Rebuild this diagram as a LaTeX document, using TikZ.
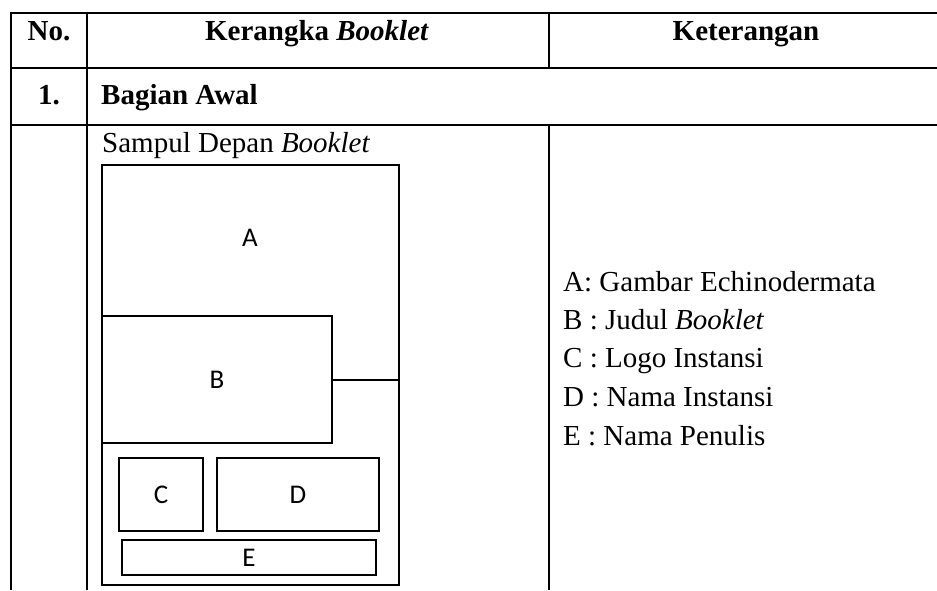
\documentclass[tikz,border=0pt]{standalone}
\usepackage{fontspec}
\setmainfont{Liberation Serif}
\newfontfamily\boxfont{Carlito}
\begin{document}
\begin{tikzpicture}[x=1pt,y=-1pt,
  tline/.style={line width=2.2pt},
  fbox/.style={draw,line width=2pt,rectangle,inner sep=0pt,outer sep=0pt,font=\boxfont\fontsize{27}{31}\selectfont},
  txt/.style={inner sep=0pt,anchor=base west,font=\fontsize{29}{34}\selectfont},
  hd/.style={inner sep=0pt,anchor=base,font=\bfseries\fontsize{29}{34}\selectfont}]
\useasboundingbox (0,0) rectangle (937,590);
% table lines
\draw[tline] (11,13) -- (937,13);
\draw[tline] (11,68) -- (937,68);
\draw[tline] (11,125) -- (937,125);
\draw[tline] (11,11.9) -- (11,590);
\draw[tline] (87,11.9) -- (87,590);
\draw[tline] (549,11.9) -- (549,68);
\draw[tline] (549,125) -- (549,590);
% header
\node[hd] (hno) at (49,40) {No.};
\node[hd] (hker) at (317,40) {Kerangka \textit{Booklet}};
\node[hd] (hket) at (746,40) {Keterangan};
\node[hd] (n1) at (49,104) {1.};
\node[txt,font=\bfseries\fontsize{29}{34}\selectfont] (bag) at (101,104) {Bagian Awal};
\node[txt] (samp) at (102,152) {Sampul Depan \textit{Booklet}};
% figure
\node[fbox,minimum width=297pt,minimum height=420pt] (outer) at (250.5,375) {};
\node[font=\boxfont\fontsize{27}{31}\selectfont,inner sep=0pt] (la) at (250,238) {A};
\node[fbox,minimum width=230pt,minimum height=127pt] (bb) at (217,379.5) {\raisebox{-4pt}{B}};
\draw[line width=2pt] (bb.east) -- (bb.east -| outer.east);
\node[fbox,minimum width=84pt,minimum height=73pt] (cc) at (161,494.5) {C};
\node[fbox,minimum width=162pt,minimum height=73pt] (dd) at (298,494.5) {D};
\node[fbox,minimum width=254pt,minimum height=35pt] (ee) at (249,557.5) {\raisebox{-1pt}{E}};
% keterangan
\node[txt] (ka) at (563,291) {A: Gambar Echinodermata};
\node[txt] (kb) at (563,329) {B : Judul \textit{Booklet}};
\node[txt] (kc) at (563,367) {C : Logo Instansi};
\node[txt] (kd) at (563,406) {D : Nama Instansi};
\node[txt] (ke) at (563,445) {E : Nama Penulis};
\end{tikzpicture}
\end{document}
